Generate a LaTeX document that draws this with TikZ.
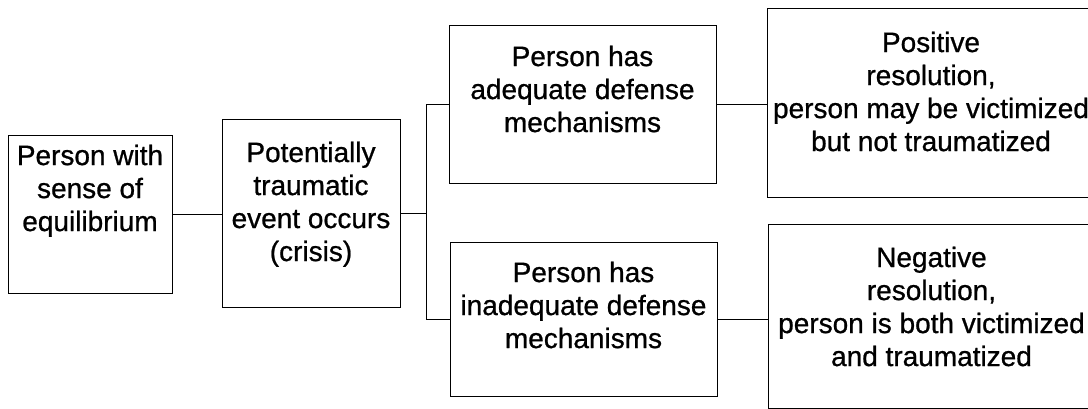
\documentclass[tikz,border=0pt]{standalone}
\usepackage{fontspec}
\setmainfont{Liberation Sans}[FakeBold=0.8]
\usetikzlibrary{positioning}

\begin{document}
\begin{tikzpicture}[x=1pt, y=-1pt,
  box/.style={draw, line width=0.9pt, rectangle, inner sep=0pt},
  txt/.style={align=center, inner sep=0pt, font=\fontsize{28}{33}\selectfont},
  link/.style={line width=0.9pt}]

\clip (0,0) rectangle (1088,409);

% --- boxes ---
\node[box, minimum width=164pt, minimum height=158pt] (equil) at (90,214) {};
\node[box, minimum width=178pt, minimum height=188pt] (crisis) at (311,213) {};
\node[box, minimum width=267pt, minimum height=158pt] (adequate) at (582.5,104) {};
\node[box, minimum width=267pt, minimum height=154pt] (inadequate) at (583.5,319) {};
\node[box, minimum width=328pt, minimum height=189pt] (positive) at (931,102.5) {};
\node[box, minimum width=327pt, minimum height=184pt] (negative) at (931.5,316) {};

% --- texts ---
\node[txt, below=10pt of equil.north] (equiltext) {Person with\\sense of\\equilibrium};
\node[txt, below=23pt of crisis.north] (crisistext) {Potentially\\traumatic\\event occurs\\(crisis)};
\node[txt, below=21pt of adequate.north] (adequatetext) {Person has\\adequate defense\\mechanisms};
\node[txt, below=20pt of inadequate.north] (inadequatetext) {Person has\\inadequate defense\\mechanisms};
\node[txt, below=24pt of positive.north] (positivetext) {Positive\\resolution,\\person may be victimized\\but not traumatized};
\node[txt, below=23pt of negative.north] (negativetext) {Negative\\resolution,\\person is both victimized\\and traumatized};

% --- connectors ---
\draw[link] (equil.east) -- (equil.east -| crisis.west);
\draw[link] (crisis.east) -- ++(26,0) coordinate (fork);
\draw[link] (fork) |- (adequate.west);
\draw[link] (fork) |- (inadequate.west);
\draw[link] (adequate.east) -- (adequate.east -| positive.west);
\draw[link] (inadequate.east) -- (inadequate.east -| negative.west);
\end{tikzpicture}
\end{document}
